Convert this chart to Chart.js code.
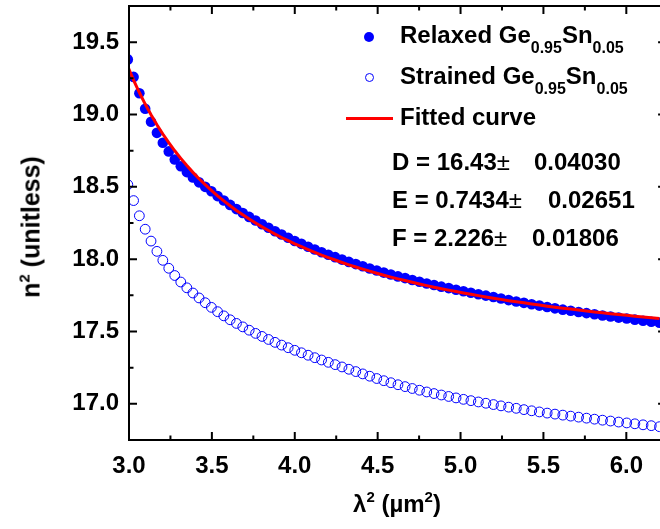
<!DOCTYPE html>
<html><head><meta charset="utf-8">
<script src="https://cdn.jsdelivr.net/npm/chart.js@4/dist/chart.umd.min.js"></script>
<style>
html,body{margin:0;padding:0;background:#fff;overflow:hidden;}
#wrap{position:relative;width:672px;height:529px;}
canvas{position:absolute;left:0;top:0;}
.t{position:absolute;font-family:"Liberation Sans",Arial,sans-serif;font-weight:bold;color:#000;white-space:nowrap;line-height:1;font-size:24px;}
.sub{font-size:16px;position:relative;top:10px;}
.sup{font-size:15px;position:relative;top:-10px;}
.pm{font-weight:normal;}
.mk{position:absolute;border-radius:50%;box-sizing:border-box;}
</style></head>
<body><div id="wrap"><canvas id="c" width="672" height="529"></canvas>
<div class="mk" style="left:364px;top:32px;width:10px;height:10px;background:#0000ff;"></div>
<div class="mk" style="left:365px;top:73px;width:9px;height:9px;border:1px solid #0000ff;"></div>
<div style="position:absolute;left:346px;top:117px;width:47px;height:3px;background:#ff0000;"></div>
<div class="t" style="left:400px;top:23px;">Relaxed Ge<span class="sub">0.95</span>Sn<span class="sub">0.05</span></div>
<div class="t" style="left:400px;top:64px;">Strained Ge<span class="sub">0.95</span>Sn<span class="sub">0.05</span></div>
<div class="t" style="left:400px;top:105px;">Fitted curve</div>
<div class="t" style="left:392px;top:150px;">D = 16.43<span class="pm">±</span></div><div class="t" style="left:534px;top:150px;">0.04030</div>
<div class="t" style="left:392px;top:188px;">E = 0.7434<span class="pm">±</span></div><div class="t" style="left:548px;top:188px;">0.02651</div>
<div class="t" style="left:392px;top:226px;">F = 2.226<span class="pm">±</span></div><div class="t" style="left:532px;top:226px;">0.01806</div>
<div class="t" style="left:397px;top:492px;transform:translateX(-50%);">λ<span class="sup">2</span> (µm<span class="sup">2</span>)</div>
<div class="t" style="left:31px;top:227px;font-size:25px;transform:translate(-50%,-50%) rotate(-90deg);">n<span class="sup">2</span> (unitless)</div>
</div>
<script>
const lambdaSq = [2.9929,3.0276,3.0625,3.0976,3.1329,3.1684,3.2041,3.24,3.2761,3.3124,
3.3489,3.3856,3.4225,3.4596,3.4969,3.5344,3.5721,3.61,3.6481,3.6864,
3.7249,3.7636,3.8025,3.8416,3.8809,3.9204,3.9601,4.0,4.0401,4.0804,
4.1209,4.1616,4.2025,4.2436,4.2849,4.3264,4.3681,4.41,4.4521,4.4944,
4.5369,4.5796,4.6225,4.6656,4.7089,4.7524,4.7961,4.84,4.8841,4.9284,
4.9729,5.0176,5.0625,5.1076,5.1529,5.1984,5.2441,5.29,5.3361,5.3824,
5.4289,5.4756,5.5225,5.5696,5.6169,5.6644,5.7121,5.76,5.8081,5.8564,
5.9049,5.9536,6.0025,6.0516,6.1009,6.1504,6.2001];
const relaxed = [19.38,19.26,19.147,19.04,18.95,18.873,18.805,18.745,18.689,18.642,
18.602,18.565,18.531,18.500,18.469,18.436,18.406,18.375,18.346,18.319,
18.292,18.267,18.241,18.217,18.193,18.170,18.148,18.126,18.106,18.086,
18.067,18.048,18.031,18.014,17.997,17.981,17.966,17.951,17.936,17.922,
17.907,17.894,17.881,17.869,17.856,17.844,17.832,17.821,17.810,17.800,
17.789,17.778,17.768,17.758,17.748,17.738,17.728,17.717,17.707,17.698,
17.688,17.679,17.669,17.660,17.651,17.643,17.635,17.627,17.619,17.611,
17.604,17.596,17.590,17.582,17.574,17.567,17.560];
const strained = [18.515,18.405,18.300,18.207,18.125,18.054,17.992,17.937,17.887,17.842,
17.802,17.766,17.732,17.699,17.667,17.637,17.608,17.581,17.556,17.532,
17.509,17.487,17.466,17.445,17.425,17.406,17.388,17.370,17.353,17.336,
17.319,17.303,17.287,17.271,17.255,17.239,17.223,17.207,17.191,17.175,
17.160,17.146,17.132,17.119,17.106,17.094,17.082,17.071,17.061,17.051,
17.041,17.031,17.022,17.013,17.004,16.995,16.986,16.977,16.969,16.960,
16.952,16.944,16.936,16.929,16.922,16.915,16.908,16.901,16.894,16.887,
16.881,16.874,16.868,16.862,16.855,16.849,16.842];
const fitted = [19.331,19.238,19.152,19.072,18.998,18.929,18.865,18.805,18.749,18.697,
18.647,18.600,18.556,18.515,18.476,18.438,18.403,18.369,18.337,18.307,
18.277,18.250,18.223,18.198,18.173,18.150,18.128,18.106,18.086,18.066,
18.047,18.028,18.011,17.994,17.977,17.961,17.946,17.931,17.917,17.903,
17.889,17.876,17.864,17.852,17.840,17.828,17.817,17.806,17.796,17.786,
17.776,17.766,17.757,17.748,17.739,17.730,17.722,17.713,17.705,17.698,
17.690,17.683,17.675,17.668,17.661,17.655,17.648,17.642,17.635,17.629,
17.623,17.617,17.612,17.606,17.600,17.595,17.590];
const xTicks = [3.0,3.5,4.0,4.5,5.0,5.5,6.0];
const xMinorTicks = [3.25,3.75,4.25,4.75,5.25,5.75];
const yTicks = [17.0,17.5,18.0,18.5,19.0,19.5];
const yMinorTicks = [17.25,17.75,18.25,18.75,19.25];

const pts = arr => lambdaSq.map((x,i)=>({x:x,y:arr[i]}));
const FONT = {family:'"Liberation Sans", Arial, sans-serif', size:24, weight:'bold'};

const frameTicks = {
  id:'frameTicks',
  afterDatasetsDraw(chart){
    const ctx = chart.ctx, a = chart.chartArea, x = chart.scales.x, y = chart.scales.y;
    ctx.save();
    ctx.strokeStyle = '#000'; ctx.lineWidth = 2; ctx.lineCap = 'butt';
    ctx.beginPath();
    ctx.rect(a.left, a.top, a.right - a.left, a.bottom - a.top);
    ctx.stroke();
    const xt = (v, len) => { const p = x.getPixelForValue(v);
      ctx.moveTo(p, a.bottom); ctx.lineTo(p, a.bottom - len);
      ctx.moveTo(p, a.top); ctx.lineTo(p, a.top + len); };
    const yt = (v, len) => { const p = y.getPixelForValue(v);
      ctx.moveTo(a.left, p); ctx.lineTo(a.left + len, p);
      ctx.moveTo(a.right, p); ctx.lineTo(a.right - len, p); };
    ctx.beginPath();
    xTicks.forEach(v => xt(v, 8)); xMinorTicks.forEach(v => xt(v, 4.5));
    yTicks.forEach(v => yt(v, 8)); yMinorTicks.forEach(v => yt(v, 4.5));
    ctx.stroke();
    ctx.restore();
  }
};

new Chart(document.getElementById('c'), {
  type:'scatter',
  data:{ datasets:[
    { label:'Fitted curve', type:'line', data:pts(fitted), borderColor:'#ff0000', borderWidth:3,
      pointRadius:0, fill:false, tension:0, clip:0 },
    { label:'Relaxed Ge0.95Sn0.05', data:pts(relaxed), pointRadius:5.3, pointBackgroundColor:'#0000ff',
      pointBorderWidth:0, pointBorderColor:'#0000ff', showLine:false, clip:0 },
    { label:'Strained Ge0.95Sn0.05', data:pts(strained), pointRadius:4.9, pointBackgroundColor:'rgba(0,0,0,0)',
      pointBorderWidth:1, pointBorderColor:'#0000ff', showLine:false, clip:0 }
  ]},
  options:{
    responsive:false, animation:false, devicePixelRatio:1,
    layout:{padding:{left:0, top:6, right:5, bottom:0}},
    plugins:{legend:{display:false}, tooltip:{enabled:false}},
    scales:{
      x:{ type:'linear', min:3.0, max:6.24,
        afterBuildTicks: s => { s.ticks = xTicks.map(v => ({value:v})); },
        afterFit: s => { s.height = 89; s.paddingLeft = 0; s.paddingRight = 0; },
        grid:{display:false, drawTicks:false}, border:{display:false},
        ticks:{ font:FONT, color:'#000', padding:12, maxRotation:0, callback: v => Number(v).toFixed(1) } },
      y:{ type:'linear', min:16.75, max:19.75,
        afterBuildTicks: s => { s.ticks = yTicks.map(v => ({value:v})); },
        afterFit: s => { s.width = 129; s.paddingTop = 0; s.paddingBottom = 0; },
        grid:{display:false, drawTicks:false}, border:{display:false},
        ticks:{ font:FONT, color:'#000', padding:10, callback: v => Number(v).toFixed(1) } }
    }
  },
  plugins:[frameTicks]
});
</script>
</body></html>
